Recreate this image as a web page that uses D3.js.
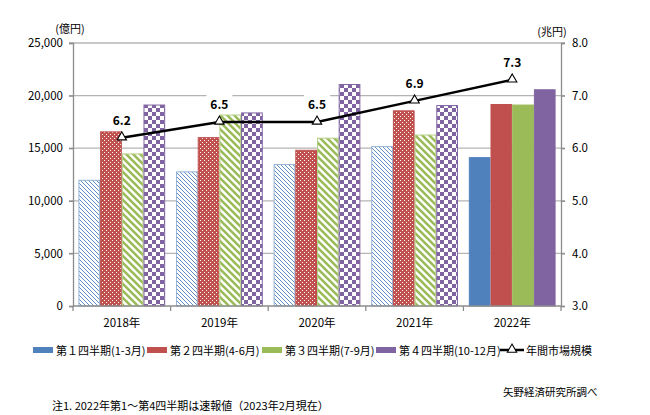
<!DOCTYPE html>
<html><head><meta charset="utf-8">
<script src="https://cdn.jsdelivr.net/npm/d3@7"></script>
<style>
html,body{margin:0;padding:0;background:#fff;}
text{font-family:"Noto Sans CJK JP","Noto Sans",sans-serif;fill:#000;}
</style></head>
<body><svg id="c" width="650" height="415"></svg>
<script>
const years = ["2018年","2019年","2020年","2021年","2022年"];
const seriesNames = ["第１四半期(1-3月)","第２四半期(4-6月)","第３四半期(7-9月)","第４四半期(10-12月)"];
const q1 = [12000, 12800, 13500, 15200, 14150];
const q2 = [16600, 16050, 14850, 18600, 19200];
const q3 = [14500, 18200, 16000, 16300, 19150];
const q4 = [19150, 18400, 21100, 19100, 20600];
const annual = [6.2, 6.5, 6.5, 6.9, 7.3];
const annualLabels = ["6.2","6.5","6.5","6.9","7.3"];
const leftTicks = [0, 5000, 10000, 15000, 20000, 25000];
const rightTicks = [3.0, 4.0, 5.0, 6.0, 7.0, 8.0];
const lineName = "年間市場規模";
const noteText = "注1. 2022年第1～第4四半期は速報値（2023年2月現在）";
const sourceText = "矢野経済研究所調べ";

const colors = ["#4f81bd","#c0504d","#9bbb59","#8064a2"];
const borders = ["#95b3d7","#c0504d","#b5cf86","#8064a2"];
const series = [q1,q2,q3,q4];

const svg = d3.select("#c");
const L = 73, R = 561, T = 43, B = 306;

// patterns
const defs = svg.append("defs");
let p = defs.append("pattern").attr("id","p0").attr("patternUnits","userSpaceOnUse").attr("width",4).attr("height",4);
p.append("rect").attr("width",4).attr("height",4).attr("fill","#fff");
p.append("path").attr("d","M0,0L4,4M-1,3L1,5M3,-1L5,1").attr("stroke",colors[0]).attr("stroke-width",0.9);
p = defs.append("pattern").attr("id","p1").attr("patternUnits","userSpaceOnUse").attr("width",4).attr("height",4);
p.append("rect").attr("width",4).attr("height",4).attr("fill",colors[1]);
p.append("rect").attr("x",0).attr("y",0).attr("width",1).attr("height",1).attr("fill","#fff");
p.append("rect").attr("x",2).attr("y",2).attr("width",1).attr("height",1).attr("fill","#fff");
p = defs.append("pattern").attr("id","p2").attr("patternUnits","userSpaceOnUse").attr("width",7).attr("height",7);
p.append("rect").attr("width",7).attr("height",7).attr("fill","#fff");
p.append("path").attr("d","M0,0L7,7M-2,5L2,9M5,-2L9,2").attr("stroke",colors[2]).attr("stroke-width",2.6);
p = defs.append("pattern").attr("id","p3").attr("patternUnits","userSpaceOnUse").attr("width",8).attr("height",8);
p.append("rect").attr("width",8).attr("height",8).attr("fill","#fff");
p.append("rect").attr("x",0).attr("y",0).attr("width",4).attr("height",4).attr("fill",colors[3]);
p.append("rect").attr("x",4).attr("y",4).attr("width",4).attr("height",4).attr("fill",colors[3]);

const x0 = d3.scaleBand().domain(years).range([L, R]).paddingInner(0).paddingOuter(0);
const x1 = d3.scaleBand().domain([0,1,2,3]).range([0, x0.bandwidth()]).paddingInner(0).paddingOuter(0.25);
const yL = d3.scaleLinear().domain([0, 25000]).range([B, T]);
const yR = d3.scaleLinear().domain([3, 8]).range([B, T]);

// gridlines
svg.append("g").selectAll("line").data(leftTicks.slice(1)).join("line")
  .attr("x1", L-4).attr("x2", R+4).attr("y1", d=>yL(d)).attr("y2", d=>yL(d))
  .attr("stroke","#b4b4b4").attr("stroke-width",1.3);

// bars
const last = years.length - 1;
series.forEach((vals, si) => {
  svg.append("g").selectAll("rect").data(vals).join("rect")
    .attr("x", (d,i)=>x0(years[i]) + x1(si) + 0.5)
    .attr("y", d=>yL(d) + 0.5)
    .attr("width", x1.bandwidth() - 1)
    .attr("height", d=>B - yL(d) - 0.5)
    .attr("fill", (d,i)=> i===last ? colors[si] : `url(#p${si})`)
    .attr("stroke", (d,i)=> i===last ? colors[si] : borders[si])
    .attr("stroke-width", 1);
});

// axes
const axL = svg.append("g").attr("transform",`translate(${L},0)`)
  .call(d3.axisLeft(yL).tickValues(leftTicks).tickSize(4).tickPadding(6).tickFormat(d3.format(",")));
const axR = svg.append("g").attr("transform",`translate(${R},0)`)
  .call(d3.axisRight(yR).tickValues(rightTicks).tickSize(4).tickPadding(7).tickFormat(d3.format(".1f")));
[axL, axR].forEach(a=>{
  a.select(".domain").attr("stroke","#8c8c8c").attr("stroke-width",1.3);
  a.selectAll(".tick line").attr("stroke","#8c8c8c").attr("stroke-width",1.3);
  a.selectAll(".tick text").attr("font-size","11.5px").attr("fill","#000")
   .style("font-family",'"Noto Sans CJK JP","Noto Sans",sans-serif');
});
// bottom axis
const axB = svg.append("g").attr("transform",`translate(0,${B})`);
axB.append("line").attr("x1",L).attr("x2",R).attr("stroke","#8c8c8c").attr("stroke-width",1.3);
const bounds = years.map(y=>x0(y)).concat([R]);
axB.selectAll("line.tk").data(bounds).join("line").attr("class","tk")
  .attr("x1",d=>d).attr("x2",d=>d).attr("y1",0).attr("y2",5).attr("stroke","#8c8c8c").attr("stroke-width",1.3);
axB.selectAll("text").data(years).join("text")
  .attr("x", d=>x0(d)+x0.bandwidth()/2).attr("y",21).attr("text-anchor","middle")
  .attr("font-size","11.5px").text(d=>d);

// axis titles
svg.append("text").attr("x",70).attr("y",33).attr("text-anchor","middle").attr("font-size","11px").text("(億円)");
svg.append("text").attr("x",552).attr("y",36).attr("text-anchor","middle").attr("font-size","11px").text("(兆円)");

// line
const cx = i => x0(years[i]) + x0.bandwidth()/2;
const line = d3.line().x((d,i)=>cx(i)).y(d=>yR(d));
const tri = d3.symbol().type(d3.symbolTriangle).size(38);
// labels with white boxes
const lg = svg.append("g").selectAll("g").data(annual).join("g")
  .attr("transform",(d,i)=>`translate(${cx(i)},${yR(d)-13})`);
lg.append("rect").attr("x",-13).attr("y",-16).attr("width",26).attr("height",19).attr("fill","#fff");
lg.append("text").attr("text-anchor","middle").attr("font-size","12px").attr("font-weight","bold")
  .text((d,i)=>annualLabels[i]);
svg.append("path").datum(annual).attr("d", line).attr("fill","none").attr("stroke","#000").attr("stroke-width",2.5);
svg.append("g").selectAll("path").data(annual).join("path")
  .attr("transform",(d,i)=>`translate(${cx(i)},${yR(d)-0.5})`).attr("d",tri())
  .attr("fill","#fff").attr("stroke","#000").attr("stroke-width",1.1);

// legend
const legX = [33, 147, 262, 376];
const leg = svg.append("g");
seriesNames.forEach((n,i)=>{
  leg.append("rect").attr("x",legX[i]).attr("y",347).attr("width",20).attr("height",6).attr("fill",colors[i]);
  leg.append("text").attr("x",legX[i]+23).attr("y",354.5).attr("font-size","11px").text(n);
});
leg.append("line").attr("x1",500).attr("x2",524).attr("y1",350).attr("y2",350).attr("stroke","#000").attr("stroke-width",2.5);
leg.append("path").attr("transform","translate(512,349.5)").attr("d",tri()).attr("fill","#fff").attr("stroke","#000").attr("stroke-width",1.1);
leg.append("text").attr("x",526).attr("y",354.5).attr("font-size","11px").text(lineName);

// notes
svg.append("text").attr("x",503).attr("y",396).attr("font-size","10.5px").text(sourceText);
svg.append("text").attr("x",52).attr("y",410).attr("font-size","11px").text(noteText);
</script></body></html>
